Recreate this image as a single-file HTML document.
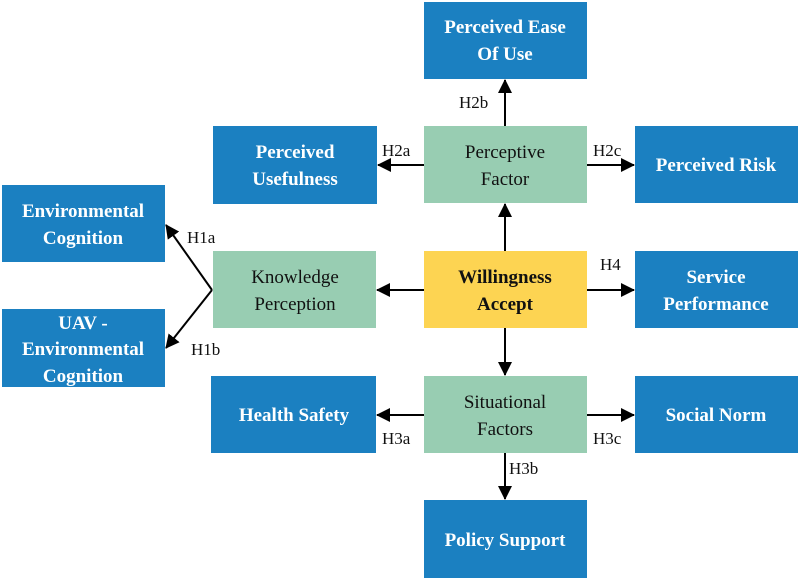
<!DOCTYPE html>
<html><head><style>
body{margin:0;background:#fff;}
svg{display:block}
.b{fill:#1b80c1}.g{fill:#98cdb2}.y{fill:#fdd452}
.wt{font-family:"Liberation Serif",serif;font-weight:bold;font-size:19px;fill:#fff;text-anchor:middle}
.bt{font-family:"Liberation Serif",serif;font-size:19px;fill:#111;text-anchor:middle}
.lb{font-family:"Liberation Serif",serif;font-size:17px;fill:#111}
line,polyline{stroke:#000;stroke-width:2;fill:none}
</style></head><body>
<svg width="800" height="580" viewBox="0 0 800 580">
<defs><marker id="a" markerWidth="10" markerHeight="10" refX="9" refY="5" orient="auto" markerUnits="userSpaceOnUse" viewBox="0 0 10 10"><path d="M0,0 L10,5 L0,10z" fill="#000"/></marker>
<marker id="m" markerWidth="14" markerHeight="14" refX="13" refY="7" orient="auto" markerUnits="userSpaceOnUse" viewBox="0 0 14 14"><path d="M0,0 L14,7 L0,14z" fill="#000"/></marker></defs>

<rect class="b" x="424" y="2" width="163" height="77"/>
<text class="wt" x="505" y="33">Perceived Ease</text><text class="wt" x="505" y="60">Of  Use</text>

<rect class="b" x="213" y="126" width="164" height="78"/>
<text class="wt" x="295" y="158">Perceived</text><text class="wt" x="295" y="185">Usefulness</text>

<rect class="g" x="424" y="126" width="163" height="77"/>
<text class="bt" x="505" y="158">Perceptive</text><text class="bt" x="505" y="185">Factor</text>

<rect class="b" x="635" y="126" width="163" height="77"/>
<text class="wt" x="716" y="171">Perceived Risk</text>

<rect class="b" x="2" y="185" width="163" height="77"/>
<text class="wt" x="83" y="217">Environmental</text><text class="wt" x="83" y="244">Cognition</text>

<rect class="g" x="213" y="251" width="163" height="77"/>
<text class="bt" x="295" y="283">Knowledge</text><text class="bt" x="295" y="310">Perception</text>

<rect class="y" x="424" y="251" width="163" height="77"/>
<text class="bt" style="font-weight:bold" x="505" y="283">Willingness</text><text class="bt" style="font-weight:bold" x="505" y="310">Accept</text>

<rect class="b" x="635" y="251" width="163" height="77"/>
<text class="wt" x="716" y="283">Service</text><text class="wt" x="716" y="310">Performance</text>

<rect class="b" x="2" y="309" width="163" height="78"/>
<text class="wt" x="83" y="329">UAV -</text><text class="wt" x="83" y="355">Environmental</text><text class="wt" x="83" y="382">Cognition</text>

<rect class="b" x="211" y="376" width="165" height="77"/>
<text class="wt" x="294" y="421">Health  Safety</text>

<rect class="g" x="424" y="376" width="163" height="77"/>
<text class="bt" x="505" y="408">Situational</text><text class="bt" x="505" y="435">Factors</text>

<rect class="b" x="635" y="376" width="163" height="77"/>
<text class="wt" x="716" y="421">Social Norm</text>

<rect class="b" x="424" y="500" width="163" height="78"/>
<text class="wt" x="505" y="546">Policy Support</text>

<!-- connectors -->
<line x1="505" y1="126" x2="505" y2="80" marker-end="url(#m)"/>
<line x1="424" y1="165" x2="378" y2="165" marker-end="url(#m)"/>
<line x1="587" y1="165" x2="634" y2="165" marker-end="url(#m)"/>
<line x1="505" y1="251" x2="505" y2="204" marker-end="url(#m)"/>
<line x1="424" y1="290" x2="377" y2="290" marker-end="url(#m)"/>
<line x1="587" y1="290" x2="634" y2="290" marker-end="url(#m)"/>
<line x1="505" y1="328" x2="505" y2="375" marker-end="url(#m)"/>
<line x1="424" y1="415" x2="377" y2="415" marker-end="url(#m)"/>
<line x1="587" y1="415" x2="634" y2="415" marker-end="url(#m)"/>
<line x1="505" y1="453" x2="505" y2="499" marker-end="url(#m)"/>
<line x1="212" y1="290" x2="166" y2="225" marker-end="url(#m)"/>
<line x1="212" y1="290" x2="166" y2="348" marker-end="url(#m)"/>

<text class="lb" x="459" y="108">H2b</text>
<text class="lb" x="382" y="156">H2a</text>
<text class="lb" x="593" y="156">H2c</text>
<text class="lb" x="600" y="270">H4</text>
<text class="lb" x="187" y="243">H1a</text>
<text class="lb" x="191" y="355">H1b</text>
<text class="lb" x="382" y="444">H3a</text>
<text class="lb" x="593" y="444">H3c</text>
<text class="lb" x="509" y="474">H3b</text>
</svg>
</body></html>
